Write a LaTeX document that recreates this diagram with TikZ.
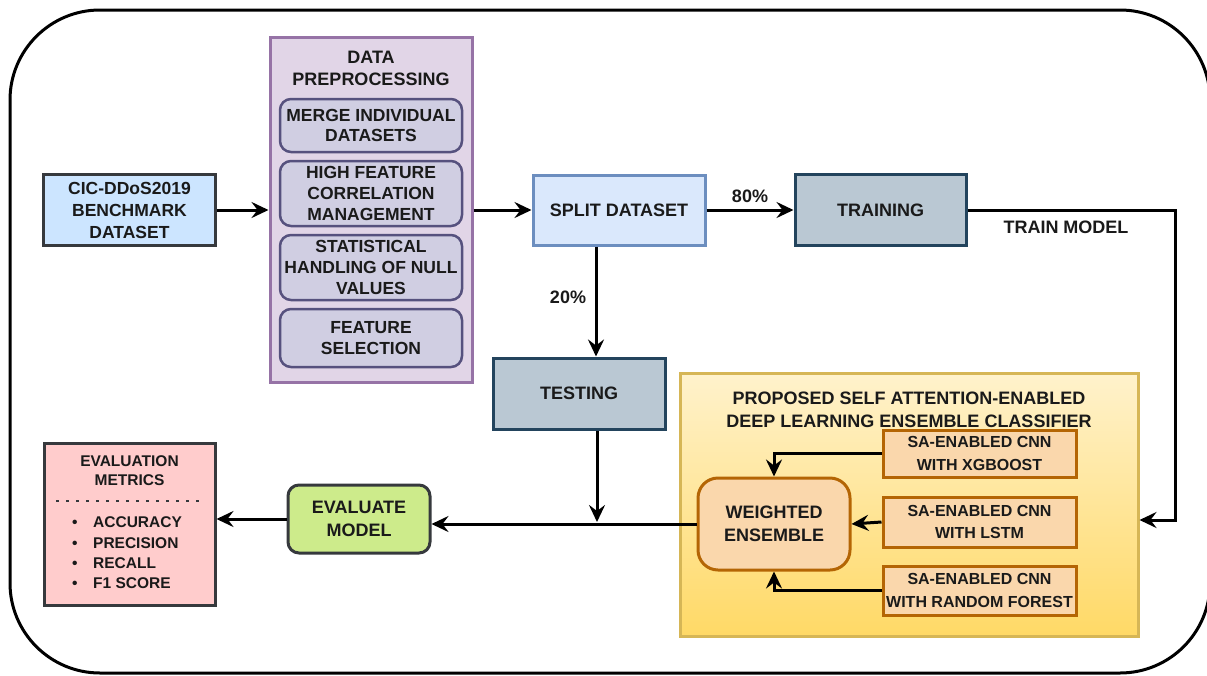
\documentclass[tikz,border=0pt]{standalone}
\usepackage{fontspec}
\setmainfont{Liberation Sans}
\usetikzlibrary{arrows.meta}
\definecolor{cicfill}{HTML}{CCE5FF}
\definecolor{darkb}{HTML}{36393D}
\definecolor{dpfill}{HTML}{E1D5E7}
\definecolor{dpdraw}{HTML}{9673A6}
\definecolor{subfill}{HTML}{D0CEE2}
\definecolor{subdraw}{HTML}{56517E}
\definecolor{splitfill}{HTML}{DAE8FC}
\definecolor{splitdraw}{HTML}{6C8EBF}
\definecolor{trfill}{HTML}{BAC8D3}
\definecolor{trdraw}{HTML}{23445D}
\definecolor{enstop}{HTML}{FFF2CC}
\definecolor{ensbot}{HTML}{FFD966}
\definecolor{ensdraw}{HTML}{D6B656}
\definecolor{orfill}{HTML}{FAD7AC}
\definecolor{ordraw}{HTML}{B46504}
\definecolor{evfill}{HTML}{CDEB8B}
\definecolor{metfill}{HTML}{FFCCCC}
\definecolor{txt}{HTML}{1A1A1A}
\tikzset{
  box/.style={draw, line width=3pt, inner sep=0pt, align=center, text=txt,
    font=\bfseries\fontsize{18}{21}\selectfont},
  subbox/.style={box, fill=subfill, draw=subdraw, line width=2.5pt, rounded corners=11pt,
    minimum width=182pt, font=\bfseries\fontsize{17.5}{20.7}\selectfont},
  sabox/.style={box, fill=orfill, draw=ordraw, line width=3pt, minimum width=193pt,
    font=\bfseries\fontsize{16}{22.5}\selectfont},
  lbl/.style={inner sep=0pt, text=txt, font=\bfseries\fontsize{18}{21}\selectfont, align=center},
  arr/.style={line width=3pt, draw=black, -{Stealth[length=17pt,width=16pt,inset=6pt]}},
  ln/.style={line width=3pt, draw=black}
}
\begin{document}
\begin{tikzpicture}[x=1pt,y=-1pt]
\useasboundingbox (0,0) rectangle (1207,675);
\fill[white] (0,0) rectangle (1207,675);
% outer frame
\draw[line width=3pt, rounded corners=90pt] (10,10) rectangle (1210,673);

% nodes
\node[box, fill=cicfill, draw=darkb, minimum width=172pt, minimum height=71pt,
  font=\bfseries\fontsize{17.5}{22}\selectfont] (cic) at (129.5,210) {CIC-DDoS2019\\BENCHMARK\\DATASET};

\node[box, fill=dpfill, draw=dpdraw, minimum width=202pt, minimum height=345pt] (dp) at (371,210) {};
\node[lbl, font=\bfseries\fontsize{18}{22}\selectfont] (dptitle) at (371,68) {DATA\\PREPROCESSING};
\node[subbox, minimum height=53pt] (m1) at (371,125.5) {MERGE INDIVIDUAL\\DATASETS};
\node[subbox, minimum height=65pt] (m2) at (371,193.5) {HIGH FEATURE\\CORRELATION\\MANAGEMENT};
\node[subbox, minimum height=65pt] (m3) at (371,267.5) {STATISTICAL\\HANDLING OF NULL\\VALUES};
\node[subbox, minimum height=58pt] (m4) at (371,338) {FEATURE\\SELECTION};

\node[box, fill=splitfill, draw=splitdraw, minimum width=172pt, minimum height=70pt] (split) at (619,210) {SPLIT DATASET};
\node[box, fill=trfill, draw=trdraw, minimum width=171pt, minimum height=71pt] (train) at (880.5,210) {TRAINING};
\node[box, fill=trfill, draw=trdraw, minimum width=172pt, minimum height=71pt] (test) at (579,393.5) {TESTING};

\node[box, top color=enstop, bottom color=ensbot, draw=ensdraw, minimum width=458pt, minimum height=263pt] (ens) at (909,504.5) {};
\node[lbl, font=\bfseries\fontsize{18}{23}\selectfont] (enstitle) at (909,409.5) {PROPOSED SELF ATTENTION-ENABLED\\DEEP LEARNING ENSEMBLE CLASSIFIER};

\node[box, fill=orfill, draw=ordraw, rounded corners=20pt, minimum width=152pt, minimum height=92pt,
  font=\bfseries\fontsize{18}{23}\selectfont] (wens) at (774,524) {WEIGHTED\\ENSEMBLE};
\node[sabox, minimum height=47pt] (sa1) at (979.5,453.5) {SA-ENABLED CNN\\WITH XGBOOST};
\node[sabox, minimum height=50pt] (sa2) at (979.5,522) {SA-ENABLED CNN\\WITH LSTM};
\node[sabox, minimum height=49pt] (sa3) at (979.5,590.5) {SA-ENABLED CNN\\WITH RANDOM FOREST};

\node[box, fill=evfill, draw=darkb, rounded corners=11pt, minimum width=142pt, minimum height=68pt,
  font=\bfseries\fontsize{18}{23}\selectfont] (evalm) at (359,519) {EVALUATE\\MODEL};

\node[box, fill=metfill, draw=darkb, minimum width=171pt, minimum height=162pt] (metrics) at (129.5,524) {};
\node[lbl, font=\bfseries\fontsize{15.5}{19}\selectfont] (mtitle) at (129.5,470.5) {EVALUATION\\METRICS};
\coordinate (dl) at (56,501);
\coordinate (dr) at (206,501);
\draw[line width=2.5pt, dash pattern=on 2.5pt off 7.5pt, draw=darkb] (dl) -- (dr);
\node[lbl, anchor=west, align=left, font=\bfseries\fontsize{15.5}{20.3}\selectfont] (mlist) at (72,553)
  {\makebox[21pt][l]{\textbullet}ACCURACY\\\makebox[21pt][l]{\textbullet}PRECISION\\\makebox[21pt][l]{\textbullet}RECALL\\\makebox[21pt][l]{\textbullet}F1 SCORE};

% connectors
\draw[arr] (cic.east) -- (dp.west);
\draw[arr] (dp.east) -- (split.west);
\draw[arr] (split.east) -- (train.west) node[lbl, pos=0.5, above=6pt] (p80) {80\%};
\coordinate (sx) at (596,0);
\draw[arr] (split.south -| sx) -- (test.north -| sx);
\node[lbl] (p20) at (568,297) {20\%};
\coordinate (j) at (597,522);
\draw[arr] (test.south -| j) -- (j);
\draw[arr] (wens.west) -- (wens.west -| evalm.east);
\draw[arr] (evalm.west) -- (evalm.west -| metrics.east);
\coordinate (tr) at (1175,520);
\draw[arr] (train.east) -| (tr) -- (tr -| ens.east);
\node[lbl] (tm) at (1066,227) {TRAIN MODEL};
\draw[arr] (sa1.west) -| (wens.north);
\draw[arr] (sa2.west) -- (wens.east);
\draw[arr] (sa3.west) -| (wens.south);
\end{tikzpicture}
\end{document}
